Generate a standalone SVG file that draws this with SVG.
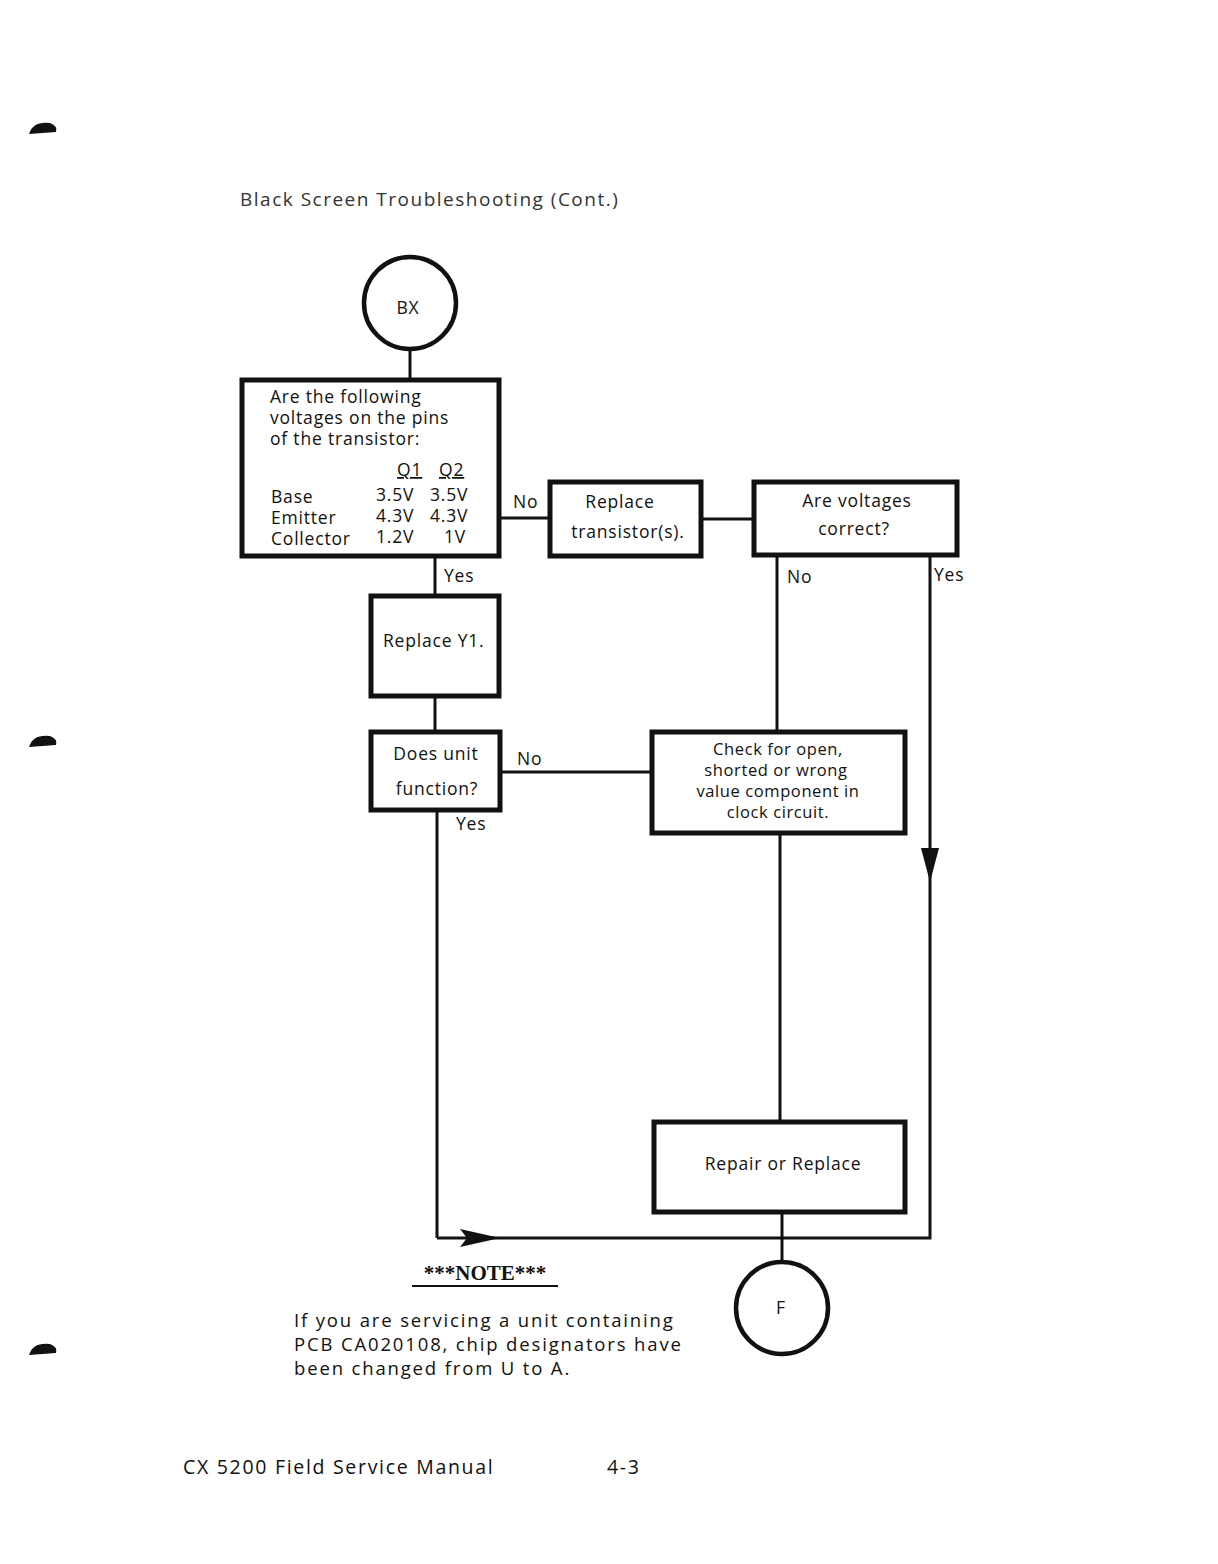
<svg xmlns="http://www.w3.org/2000/svg" width="1218" height="1564" viewBox="0 0 1218 1564">
<style>
.box{fill:#fff;stroke:#111;stroke-width:5}
.circ{fill:#fff;stroke:#111;stroke-width:4.5}
.ln{fill:none;stroke:#111;stroke-width:3}
text{font-family:"Open Sans","Liberation Sans",sans-serif;font-size:17.5px;fill:#111;letter-spacing:0.8px}
.c{text-anchor:middle}
.big{font-size:18.5px;letter-spacing:1.85px}
.ft{font-size:19.5px;letter-spacing:1.7px}
.sm{font-size:16.5px;letter-spacing:0.6px}
</style>
<rect width="1218" height="1564" fill="#fff"/>
<g id="marks" fill="#111">
<path d="M29,134 Q33,121 50,123 Q58,126 56,132 Z"/>
<path d="M29,747 Q33,734 50,736 Q58,739 56,745 Z"/>
<path d="M29,1355 Q33,1342 50,1344 Q58,1347 56,1353 Z"/>
</g>
<text x="240" y="206" style="font-size:19px;fill:#333;letter-spacing:1.5px">Black Screen Troubleshooting (Cont.)</text>
<g id="connectors">
<path class="ln" d="M410,349 V380"/>
<path class="ln" d="M500,518 H549"/>
<path class="ln" d="M702,519 H753"/>
<path class="ln" d="M777,556 V731"/>
<path class="ln" d="M930,556 V1238 H437"/>
<path class="ln" d="M435,557 V595"/>
<path class="ln" d="M435,697 V731"/>
<path class="ln" d="M501,772 H651"/>
<path class="ln" d="M780,834 V1121"/>
<path class="ln" d="M782,1213 V1262"/>
<path class="ln" d="M437,811 V1238"/>
<path fill="#111" d="M921,848 L939,848 L930,882 Z"/>
<path fill="#111" d="M460,1229 L500,1238 L460,1247 L467,1238 Z"/>
<text x="513" y="508">No</text>
<text x="787" y="583">No</text>
<text x="934" y="581">Yes</text>
<text x="444" y="582">Yes</text>
<text x="517" y="765">No</text>
<text x="456" y="830">Yes</text>
</g>
<g id="BX"><circle class="circ" cx="410" cy="303" r="46"/><text class="c" x="408" y="314">BX</text></g>
<g id="q1">
<rect class="box" x="242" y="380" width="257" height="176"/>
<text x="270" y="403">Are the following</text>
<text x="270" y="424">voltages on the pins</text>
<text x="270" y="445">of the transistor:</text>
<text x="397" y="476" text-decoration="underline">Q1</text>
<text x="439" y="476" text-decoration="underline">Q2</text>
<text x="271" y="503">Base</text><text x="376" y="501">3.5V</text><text x="430" y="501">3.5V</text>
<text x="271" y="524">Emitter</text><text x="376" y="522">4.3V</text><text x="430" y="522">4.3V</text>
<text x="271" y="545">Collector</text><text x="376" y="543">1.2V</text><text x="444" y="543">1V</text>
</g>
<g id="replaceT"><rect class="box" x="550" y="482" width="151" height="74"/>
<text class="c" x="620" y="508">Replace</text><text class="c" x="628" y="538">transistor(s).</text></g>
<g id="areV"><rect class="box" x="754" y="482" width="203" height="73"/>
<text class="c" x="857" y="507">Are voltages</text><text class="c" x="854" y="535">correct?</text></g>
<g id="replaceY"><rect class="box" x="371" y="596" width="128" height="100"/>
<text x="383" y="647">Replace Y1.</text></g>
<g id="does"><rect class="box" x="371" y="732" width="129" height="78"/>
<text class="c" x="436" y="760">Does unit</text><text class="c" x="437" y="795">function?</text></g>
<g id="check"><rect class="box" x="652" y="732" width="253" height="101"/>
<text class="c sm" x="778" y="755">Check for open,</text>
<text class="c sm" x="776" y="776">shorted or wrong</text>
<text class="c sm" x="778" y="797">value component in</text>
<text class="c sm" x="778" y="818">clock circuit.</text></g>
<g id="repair"><rect class="box" x="654" y="1122" width="251" height="90"/>
<text class="c" x="783" y="1170">Repair or Replace</text></g>
<g id="F"><circle class="circ" cx="782" cy="1308" r="46"/><text class="c" x="781" y="1314">F</text></g>
<g id="note">
<text class="c" x="485" y="1280" style="font-family:'Liberation Serif',serif;font-weight:bold;font-size:21px;letter-spacing:0">***NOTE***</text>
<path d="M412,1286 H558" stroke="#111" stroke-width="2"/>
<text class="big" x="294" y="1327">If you are servicing a unit containing</text>
<text class="big" x="294" y="1351">PCB CA020108, chip designators have</text>
<text class="big" x="294" y="1375">been changed from U to A.</text>
</g>
<text class="ft" x="183" y="1474">CX 5200 Field Service Manual</text>
<text class="ft" x="607" y="1474">4-3</text>
</svg>
